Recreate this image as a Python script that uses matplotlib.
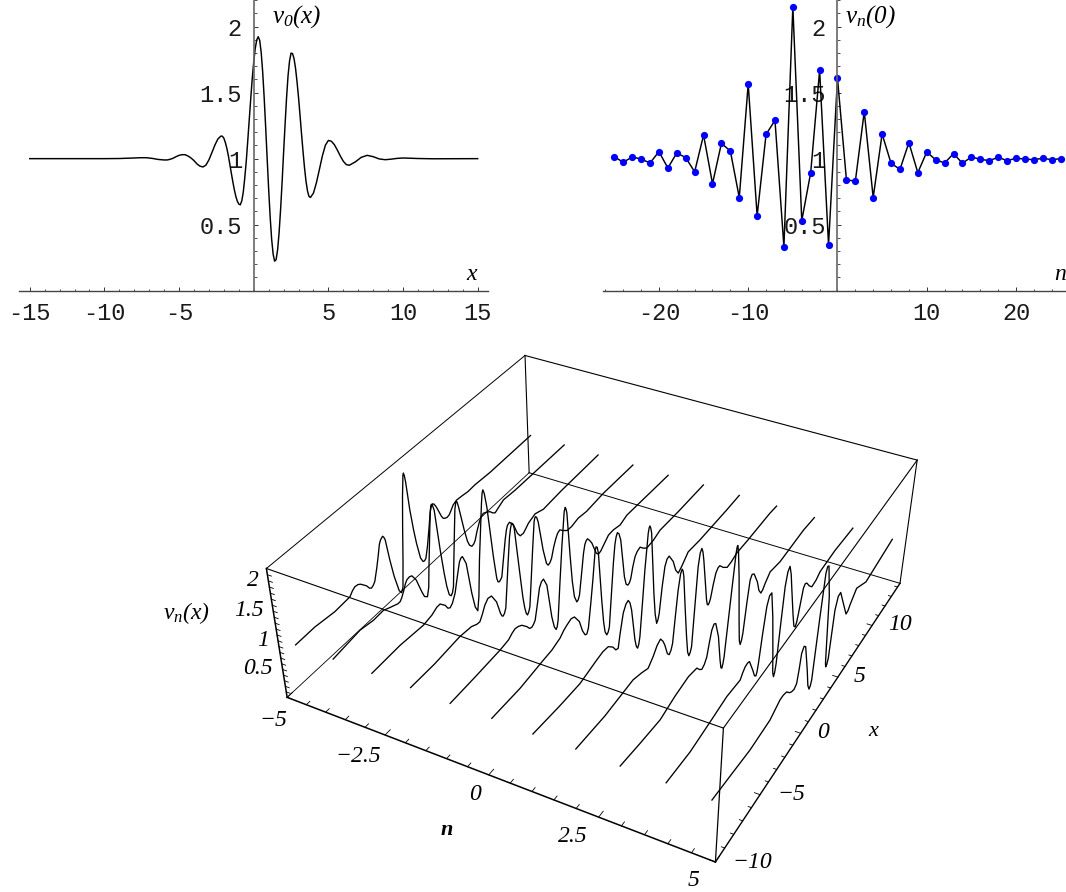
import numpy as np
import matplotlib
matplotlib.use("Agg")
import matplotlib.pyplot as plt
from matplotlib.ticker import FixedLocator, MultipleLocator, FuncFormatter

WIDTH, HEIGHT = 1066, 892

# v_0(x), top left
v0_x = [-15, -10, -9, -8.5, -8, -7.6, -7.2, -6.8, -6.4, -6, -5.8, -5.6, -5.4, -5.2, -5, -4.8, -4.6, -4.4, -4.2, -4,
        -3.8, -3.6, -3.4, -3.2, -3, -2.8, -2.6, -2.4, -2.2, -2.1, -2, -1.9, -1.8, -1.7, -1.6, -1.5, -1.4, -1.3, -1.2,
        -1.1, -1, -0.9, -0.8, -0.7, -0.6, -0.5, -0.4, -0.3, -0.2, -0.1, 0, 0.1, 0.2, 0.3, 0.4, 0.5, 0.6, 0.7, 0.8, 0.9,
        1, 1.1, 1.2, 1.3, 1.4, 1.5, 1.6, 1.7, 1.8, 1.9, 2, 2.1, 2.2, 2.3, 2.4, 2.5, 2.6, 2.7, 2.8, 2.9, 3, 3.1, 3.2,
        3.3, 3.4, 3.5, 3.6, 3.7, 3.8, 4, 4.2, 4.4, 4.6, 4.8, 5, 5.2, 5.4, 5.6, 5.8, 6, 6.2, 6.4, 6.8, 7.2, 7.6, 8, 8.4,
        8.8, 9.2, 9.6, 10, 11, 12, 15]
v0_y = [1, 1, 1.001, 1.003, 1.005, 1.007, 1.007, 1.002, 0.994, 0.99, 0.99, 0.995, 1.003, 1.015, 1.025, 1.03, 1.03,
        1.02, 1.005, 0.985, 0.96, 0.943, 0.937, 0.951, 0.991, 1.046, 1.103, 1.149, 1.171, 1.17, 1.155, 1.122, 1.078,
        1.023, 0.957, 0.89, 0.825, 0.765, 0.715, 0.678, 0.656, 0.65, 0.68, 0.746, 0.854, 0.98, 1.135, 1.295, 1.455,
        1.606, 1.733, 1.835, 1.899, 1.924, 1.897, 1.805, 1.657, 1.462, 1.238, 1.0, 0.769, 0.56, 0.39, 0.276, 0.223,
        0.235, 0.31, 0.44, 0.616, 0.82, 1.046, 1.26, 1.463, 1.63, 1.741, 1.8, 1.796, 1.758, 1.685, 1.583, 1.465, 1.33,
        1.19, 1.057, 0.933, 0.83, 0.756, 0.714, 0.706, 0.739, 0.818, 0.919, 1.022, 1.102, 1.138, 1.132, 1.106, 1.065,
        1.02, 0.98, 0.955, 0.95, 0.975, 1.01, 1.025, 1.015, 0.998, 0.992, 0.996, 1.002, 1.005, 1.001, 0.999, 1]

# v_n(0), top right
vn_n = list(range(-25, 26))
vn_y = [1.015, 0.972, 1.013, 0.997, 0.967, 1.053, 0.929, 1.043, 1.008, 0.9, 1.179, 0.81, 1.116, 1.058, 0.705, 1.566,
        0.566, 1.184, 1.29, 0.331, 2.152, 0.53, 0.894, 1.669, 0.346, 1.611, 0.841, 0.828, 1.356, 0.705, 1.187, 0.965,
        0.919, 1.121, 0.894, 1.05, 0.992, 0.967, 1.038, 0.965, 1.013, 0.995, 0.985, 1.01, 0.985, 1.003, 0.997, 0.992,
        1.003, 0.992, 1]

# v_n(x) slices, bottom panel: n of each slice, then (x, value) readings
slice_n = [-4.60, -3.65, -2.70, -1.77, -0.82, 0.13, 1.06, 1.99, 2.95, 3.91, 4.85]
slice_1 = [(-9.85, 1), (-8.26, 1.01), (-6.59, .97), (-5.26, .99), (-5, 1.05), (-4.77, 1.08), (-4.5, 1.07), (-4.29, 1.04),
           (-3.82, .93), (-3.6, .85), (-3.43, .82), (-3.25, .84), (-3.09, .88), (-2.8, 1.07), (-2.59, 1.23),
           (-2.37, 1.41), (-2.24, 1.46), (-2.04, 1.49), (-1.95, 1.46), (-1.85, 1.4), (-1.63, 1.01), (-1.4, .68),
           (-1.25, .53), (-1.08, .36), (-.89, .29), (-.72, .36), (-.5, .78), (-.24, 1.36), (0, 1.85), (.13, 2.05),
           (.2, 2.17), (.26, 2.2), (.32, 2.15), (.38, 2.04), (.53, 1.53), (.7, 1.16), (.86, .89), (1.11, .58),
           (1.32, .48), (1.46, .47), (1.6, .49), (1.85, .68), (2.15, .98), (2.33, 1.18), (2.45, 1.26), (2.6, 1.31),
           (2.77, 1.28), (2.98, 1.19), (3.39, .96), (3.55, .9), (3.69, .88), (3.9, .86), (4.13, .87), (4.35, .92),
           (4.59, .98), (4.95, 1.01), (5.47, 1), (6.16, .98), (6.88, .99), (8.5, .97), (13.13, .98)]
slice_2 = [(-9.87, 1), (-7.56, 1.06), (-6.43, 1.02), (-5.54, 1.03), (-5, .98), (-4.53, .94), (-4.3, .92), (-4.09, .92),
           (-3.92, .96), (-3.73, 1.03), (-3.5, 1.13), (-3.35, 1.17), (-3.1, 1.18), (-2.89, 1.16), (-2.55, 1.03),
           (-2.15, .75), (-1.95, .63), (-1.69, .58), (-1.5, .72), (-1.36, 1), (-.96, 1.68), (-.8, 1.93), (-.71, 2.01),
           (-.6, 2), (-.46, 1.88), (-.2, 1.15), (0, .7), (.15, .44), (.32, .26), (.49, .21), (.63, .24), (.77, .33),
           (1, .8), (1.27, 1.32), (1.42, 1.6), (1.56, 1.71), (1.66, 1.69), (1.77, 1.59), (2.16, 1.12), (2.4, .88),
           (2.57, .78), (2.8, .72), (3, .73), (3.16, .77), (3.4, .9), (3.69, 1.02), (3.9, 1.08), (4.13, 1.1),
           (4.45, 1.07), (4.81, 1.02), (5.05, .96), (5.31, .92), (5.7, .96), (6.23, 1.01), (7.5, .99), (13.15, .98)]
slice_3 = [(-9.87, 1), (-7.43, 1.01), (-5.37, .97), (-4.58, 1), (-4.1, 1.05), (-3.79, 1.05), (-3.58, 1), (-3.36, .95),
           (-3.14, .86), (-2.94, .83), (-2.7, .87), (-2.4, .99), (-2.1, 1.22), (-1.81, 1.43), (-1.65, 1.47),
           (-1.51, 1.47), (-1.21, 1.3), (-.87, .72), (-.63, .43), (-.41, .32), (-.22, .55), (.04, 1.15), (.54, 2.04),
           (.65, 2.19), (.74, 2.23), (.85, 2.15), (1.02, 1.9), (1.39, .98), (1.61, .55), (1.72, .47), (1.83, .45),
           (1.97, .46), (2.12, .49), (2.4, .81), (2.63, 1.07), (2.8, 1.22), (2.93, 1.28), (3.14, 1.3), (3.53, 1.19),
           (3.9, .98), (4.17, .89), (4.52, .88), (4.78, .92), (5.08, .97), (5.82, 1.02), (6.73, .96), (8.81, .98),
           (13.13, .98)]
slice_4 = [(-9.87, 1), (-7.76, .99), (-5.47, 1.02), (-4.38, .99), (-3.9, .94), (-3.61, .93), (-3.35, 1.01), (-3.07, 1.12),
           (-2.75, 1.18), (-2.41, 1.16), (-1.97, .98), (-1.65, .72), (-1.52, .65), (-1.42, .63), (-1.28, .65),
           (-1.12, .72), (-.7, 1.43), (-.45, 1.83), (-.32, 1.95), (-.2, 2.02), (-.08, 1.99), (.03, 1.9), (.39, 1.07),
           (.6, .6), (.75, .38), (.88, .26), (1, .21), (1.13, .24), (1.27, .31), (1.5, .75), (1.75, 1.24), (2, 1.69),
           (2.08, 1.74), (2.16, 1.75), (2.27, 1.72), (2.41, 1.62), (2.83, 1.06), (3.14, .77), (3.31, .71), (3.5, .72),
           (3.69, .77), (3.95, .93), (4.2, 1.04), (4.4, 1.1), (4.64, 1.12), (5, 1.05), (5.43, .98), (5.93, .97),
           (6.68, 1), (7.64, .97), (9.59, .99), (13.23, .96)]
slice_5 = [(-9.94, 1), (-7.71, 1), (-5.38, 1.01), (-4.58, 1.03), (-4.2, 1.08), (-3.92, 1.1), (-3.6, 1.08), (-3.28, 1.04),
           (-2.81, .93), (-2.55, .85), (-2.33, .83), (-2.15, .85), (-1.98, .89), (-1.7, 1.13), (-1.46, 1.35),
           (-1.25, 1.42), (-1.04, 1.43), (-.72, 1.27), (-.31, .64), (-.08, .42), (.1, .34), (.22, .37), (.33, .47),
           (.6, 1.07), (.88, 1.65), (1.19, 2.19), (1.3, 2.24), (1.38, 2.2), (1.46, 2.12), (1.72, 1.34), (1.9, .88),
           (2.1, .57), (2.35, .43), (2.5, .44), (2.65, .5), (2.9, .83), (3.14, 1.16), (3.3, 1.29), (3.44, 1.33),
           (3.59, 1.34), (3.8, 1.28), (4.06, 1.19), (4.54, .93), (4.79, .87), (5.05, .88), (5.3, .92), (5.94, 1.02),
           (6.52, 1.02), (7.3, .98), (8.09, 1.03), (13.22, .96)]
slice_6 = [(-9.92, 1), (-7.33, .98), (-5.09, 1.02), (-4.26, 1.03), (-3.43, 1.08), (-3.05, 1.14), (-2.74, 1.17), (-2.3, 1.2),
           (-1.96, 1.17), (-1.46, 1), (-1.15, .78), (-.88, .66), (-.7, .64), (-.53, .71), (-.25, 1.1), (-.02, 1.45),
           (.23, 1.89), (.34, 1.95), (.46, 1.92), (.58, 1.8), (.92, .94), (1.12, .52), (1.28, .31), (1.47, .22),
           (1.62, .24), (1.76, .31), (1.98, .85), (2.19, 1.36), (2.35, 1.65), (2.48, 1.76), (2.62, 1.81), (2.8, 1.76),
           (3, 1.62), (3.44, .91), (3.65, .74), (3.85, .69), (4.02, .7), (4.18, .75), (4.4, .92), (4.65, 1.06),
           (4.9, 1.11), (5.23, 1.13), (5.6, 1.05), (6.03, .98), (6.81, .99), (7.61, 1.04), (9.88, 1.01), (13.11, .99)]
slice_7 = [(-9.95, 1), (-7.42, .95), (-5.46, .93), (-3.77, 1), (-3.12, 1.02), (-2.56, 1), (-2.07, .9), (-1.75, .79),
           (-1.5, .77), (-1.32, .97), (-.98, 1.28), (-.7, 1.38), (-.45, 1.4), (-.25, 1.32), (-.07, 1.17), (.35, .57),
           (.52, .42), (.67, .36), (.8, .41), (.91, .52), (1.13, 1.05), (1.35, 1.6), (1.65, 2.16), (1.74, 2.23),
           (1.82, 2.25), (1.92, 2.2), (2.03, 2.1), (2.44, 1.01), (2.65, .6), (2.85, .4), (3, .44), (3.13, .53),
           (3.4, .95), (3.67, 1.26), (3.9, 1.35), (4.15, 1.36), (4.66, 1.18), (5, .97), (5.33, .86), (5.73, .91),
           (6.49, 1.04), (7.95, 1.01), (11.4, .99), (13.1, .99)]
slice_8 = [(-9.9, 1), (-7.09, .96), (-4.21, .99), (-3.3, .93), (-2.6, .87), (-2.07, .97), (-1.65, 1.08), (-1.28, 1.12),
           (-1, 1.03), (-.77, .92), (-.45, .71), (-.23, .65), (-.03, .69), (.13, .78), (.35, 1.2), (.58, 1.61),
           (.8, 1.84), (.96, 1.89), (1.08, 1.84), (1.19, 1.73), (1.5, 1.12), (1.79, .59), (2, .27), (2.17, .17),
           (2.33, .2), (2.47, .28), (2.67, .95), (2.87, 1.6), (3.05, 1.8), (3.23, 1.85), (3.38, 1.77), (3.54, 1.6),
           (4.12, .81), (4.24, .71), (4.36, .68), (4.5, .7), (4.63, .75), (4.9, .95), (5.16, 1.1), (5.4, 1.15),
           (5.63, 1.15), (6.1, 1.04), (6.63, .95), (7.18, .96), (7.81, 1), (9.33, .99), (12.26, .99), (13.21, .97)]
slice_9 = [(-9.94, 1), (-7.96, .95), (-5.9, .91), (-4.32, .99), (-2.88, 1.03), (-1.93, .99), (-1.6, .9), (-1.32, .85),
           (-1.05, .88), (-.79, .96), (-.55, 1.17), (-.34, 1.33), (-.1, 1.39), (.11, 1.36), (.53, 1.06), (.9, .58),
           (1.07, .41), (1.19, .38), (1.3, .44), (1.4, .54), (1.65, 1.08), (1.89, 1.6), (2.16, 2.16), (2.25, 2.25),
           (2.32, 2.26), (2.45, 2.14), (2.73, 1.68), (3.1, .85), (3.3, .47), (3.45, .37), (3.6, .42), (3.72, .52),
           (4, 1.02), (4.23, 1.36), (4.45, 1.42), (4.72, 1.38), (5.25, 1.15), (5.55, .95), (5.85, .85), (6.1, .87),
           (6.36, .93), (6.96, 1.03), (8.32, .98), (11.51, 1.01), (13.1, .98)]
slice_10 = [(-9.93, 1), (-7.46, .97), (-5.33, 1.02), (-3.49, 1.07), (-1.96, 1.04), (-1.7, 1.11), (-1.43, 1.16),
            (-1.15, 1.17), (-.92, 1.15), (-.4, .9), (-.12, .75), (.07, .71), (.18, .76), (.29, .89), (.55, 1.33),
            (.84, 1.74), (1.1, 1.87), (1.37, 1.87), (1.76, 1.4), (2.15, .75), (2.38, .32), (2.54, .21), (2.66, .26),
            (2.77, .4), (2.95, 1.05), (3.14, 1.66), (3.35, 1.87), (3.59, 1.92), (3.85, 1.74), (4.14, 1.43), (4.65, .9),
            (4.92, .66), (5.12, .61), (5.28, .66), (5.44, .79), (5.84, 1.16), (6.05, 1.2), (6.29, 1.17), (6.7, 1.05),
            (7.12, .96), (7.7, .98), (8.2, 1.04), (10.3, 1.06), (12.94, 1.02)]
slice_11 = [(-9.95, 1), (-8.03, .96), (-5.81, .91), (-3.52, .93), (-2.4, 1.04), (-2.01, 1.04), (-1.58, 1.01), (-1.2, .92),
            (-.87, .87), (-.55, .85), (-.27, .89), (-.1, 1.1), (.04, 1.34), (.3, 1.41), (.53, 1.36), (1.1, .85),
            (1.42, .52), (1.65, .41), (1.8, .44), (1.92, .52), (2.05, 1), (2.2, 1.55), (2.42, 2.22), (2.58, 2.3),
            (2.76, 2.28), (3.29, 1.69), (3.73, .64), (3.82, .44), (3.91, .36), (4.05, .38), (4.18, .46), (4.41, 1.26),
            (4.7, 1.44), (5.02, 1.45), (5.63, 1.16), (6.29, .85), (6.55, .86), (6.78, .92), (7.59, 1.07), (9.08, .92),
            (12.62, 1.01), (12.96, 1.02)]
slices = [slice_1, slice_2, slice_3, slice_4, slice_5, slice_6, slice_7, slice_8, slice_9, slice_10, slice_11]

n_min, n_max = -5, 5
x_min, x_max = -10, 14.4
z_min, z_max = 0, 2.2
n_labels = [-5, -2.5, 0, 2.5, 5]

plt.rcParams['mathtext.fontset'] = 'custom'
plt.rcParams['mathtext.it'] = 'Liberation Serif:italic'
plt.rcParams['mathtext.rm'] = 'Liberation Serif:italic'

fig = plt.figure(figsize=(WIDTH / 100, HEIGHT / 100), dpi=100)


def put_text(x, y, s, size=14, **kwargs):
    # x, y in picture pixels, measured from the top left
    kwargs.setdefault('family', 'Liberation Serif')
    kwargs.setdefault('style', 'italic')
    return fig.text(x / WIDTH, 1 - y / HEIGHT, s, fontsize=size, ha='center', va='center', **kwargs)


def flat_axes(left, right, top, bottom, xlim, major, minor):
    ax = fig.add_axes([left / WIDTH, 1 - bottom / HEIGHT, (right - left) / WIDTH, (bottom - top) / HEIGHT])
    ax.set_xlim(*xlim)
    ax.set_ylim(0, 2.2)
    ax.patch.set_visible(False)
    for side in ['top', 'right']:
        ax.spines[side].set_visible(False)
    ax.spines['left'].set_position(('data', 0))
    ax.spines['bottom'].set_position(('data', 0))
    ax.spines['left'].set_color('#666666')
    ax.spines['left'].set_linewidth(1.2)
    ax.spines['bottom'].set_color('#444444')
    ax.spines['bottom'].set_linewidth(1.0)
    ticks_x = [t for t in np.arange(-30, 31, major) if t != 0 and xlim[0] < t < xlim[1]]
    ax.xaxis.set_major_locator(FixedLocator(ticks_x))
    ax.xaxis.set_minor_locator(MultipleLocator(minor))
    ax.yaxis.set_major_locator(FixedLocator([0.5, 1, 1.5, 2]))
    ax.yaxis.set_minor_locator(MultipleLocator(0.1))
    ax.xaxis.set_major_formatter(FuncFormatter(lambda v, p: '%d' % v))
    ax.yaxis.set_major_formatter(FuncFormatter(lambda v, p: '%g' % v))
    ax.tick_params(which='major', direction='in', length=3.2, width=0.7, color='#333333')
    ax.tick_params(which='minor', direction='in', length=1.8, width=0.6, color='#333333')
    ax.tick_params(axis='x', which='major', pad=8)
    ax.tick_params(axis='y', which='major', pad=8.5)
    for lab in ax.get_xticklabels() + ax.get_yticklabels():
        lab.set_family('Liberation Mono')
        lab.set_fontsize(17)
        lab.set_color('#1a1a1a')
    return ax


ax1 = flat_axes(19, 488, 0.3, 290.6, (-15.72, 15.69), 5, 1)
ax1.plot(v0_x, v0_y, color='black', lw=1.05)
put_text(297, 17, r'$v_{0}(x)$', size=18)
put_text(471.5, 275, 'x', size=17)

ax2 = flat_axes(602.7, 1066, 0.3, 290.6, (-26.3, 25.6), 10, 2)
ax2.plot(vn_n, vn_y, color='black', lw=1.05, marker='o', ms=5.2, mfc='#0000ff', mec='#0000ff', mew=0,
         clip_on=False)
put_text(870, 17, r'$v_{n}(0)$', size=18)
put_text(1060, 275, 'n', size=17)

# bottom panel: a perspective camera fitted to where the eight box corners sit in the reference
ax3 = fig.add_axes([0, 0, 1, 1])
ax3.set_xlim(0, WIDTH)
ax3.set_ylim(HEIGHT, 0)
ax3.set_axis_off()

corners = [(n_min, x_min, z_min), (n_min, x_min, z_max), (n_max, x_min, z_min), (n_max, x_min, z_max),
           (n_max, x_max, z_min), (n_max, x_max, z_max), (n_min, x_max, z_min), (n_min, x_max, z_max)]
corner_pixels = [(286.7, 696.7), (266.7, 569), (715.7, 862), (723.3, 728.3),
                 (900, 583.3), (917, 460), (529.3, 473.3), (525, 355)]
A, b = [], []
for (n, x, z), (u, v) in zip(corners, corner_pixels):
    A.append([n, x, z, 1, 0, 0, 0, 0, -u * n, -u * x, -u * z])
    b.append(u)
    A.append([0, 0, 0, 0, n, x, z, 1, -v * n, -v * x, -v * z])
    b.append(v)
cam = np.append(np.linalg.lstsq(np.array(A), np.array(b), rcond=None)[0], 1).reshape(3, 4)


def line3d(ns, xs, zs, lw=0.7):
    pts = np.column_stack([ns, xs, zs, np.ones(len(ns))]) @ cam.T
    ax3.plot(pts[:, 0] / pts[:, 2], pts[:, 1] / pts[:, 2], color='black', lw=lw)


# box edges
line3d([n_min, n_max], [x_min, x_min], [z_max, z_max], 0.8)
line3d([n_max, n_max], [x_min, x_min], [z_min, z_max], 0.9)
line3d([n_max, n_max], [x_min, x_max], [z_max, z_max], 0.8)
line3d([n_max, n_max], [x_max, x_max], [z_min, z_max], 0.8)
line3d([n_min, n_max], [x_max, x_max], [z_max, z_max], 0.8)
line3d([n_min, n_min], [x_min, x_max], [z_max, z_max], 0.7)
line3d([n_min, n_min], [x_max, x_max], [z_min, z_max], 0.8)
line3d([n_min, n_min], [x_min, x_max], [z_min, z_min], 0.6)
line3d([n_min, n_max], [x_max, x_max], [z_min, z_min], 0.7)

# axes with ticks
line3d([n_min, n_max], [x_min, x_min], [z_min, z_min], 1.1)
line3d([n_max, n_max], [x_min, x_max], [z_min, z_min], 1.0)
line3d([n_min, n_min], [x_min, x_min], [z_min, z_max], 1.1)
for t in np.arange(n_min, n_max + 0.01, 0.5):
    line3d([t, t], [x_min, x_min + (0.45 if t in n_labels else 0.3)], [z_min, z_min], 0.6)
for t in np.arange(x_min, x_max, 1):
    line3d([n_max, n_max - (0.12 if t % 5 == 0 else 0.07)], [t, t], [z_min, z_min], 0.6)
for t in np.arange(z_min, z_max, 0.1):
    line3d([n_min, n_min + 0.1], [x_min, x_min], [t, t], 0.6)

for n, readings in zip(slice_n, slices):
    xs, zs = zip(*readings)
    line3d([n] * len(xs), xs, zs, 0.95)

for s, x, y in [('2', 252.7, 580), ('1.5', 249, 611), ('1', 263, 641), ('0.5', 258, 669), ('\u22125', 273, 720),
                ('\u22122.5', 358, 757), ('0', 475, 795), ('2.5', 573, 837), ('5', 694, 881),
                ('10', 900, 625), ('5', 860, 677), ('0', 823, 733), ('\u22125', 791, 795), ('\u221210', 752, 863)]:
    put_text(x, y, s, size=17)
put_text(186, 613, r'$v_{n}(x)$', size=17)
put_text(446.7, 830, 'n', size=16, weight='bold')
put_text(873, 732, 'x', size=16)

fig.savefig('out.png', dpi=100, facecolor='white')
